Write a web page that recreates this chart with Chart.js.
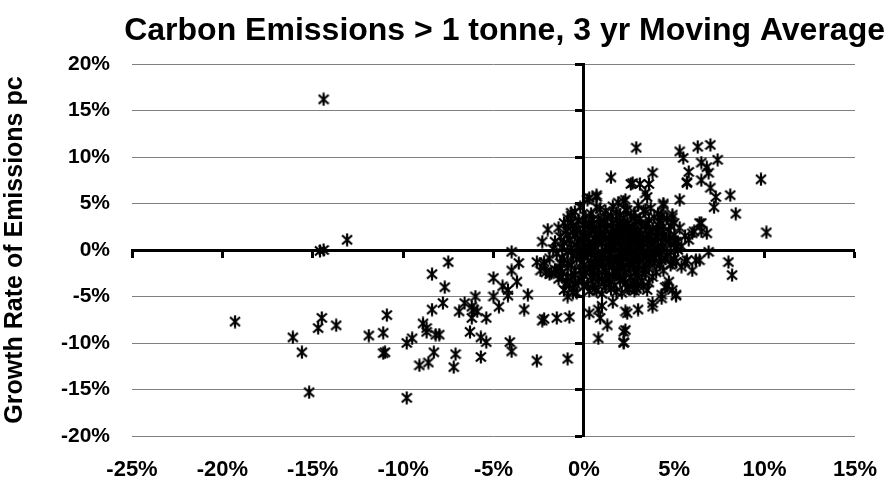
<!DOCTYPE html>
<html>
<head>
<meta charset="utf-8">
<script src="https://cdn.jsdelivr.net/npm/chart.js@4.4.1/dist/chart.umd.min.js"></script>
<style>
  body { margin: 0; background: #fff; }
  #chart { display: block; }
</style>
</head>
<body>
<canvas id="chart" width="890" height="486"></canvas>
<script>
// axis ranges (percent)
var xRange = [-25, 15];
var yRange = [-20, 20];
var tickStep = 5;

// points: [x growth %, emissions pc growth %]
var outliers = [
  [-14.4, 16.2], [-13.1, 1.1], [-14.6, -0.1], [-14.4, 0.0],
  [-19.3, -7.7], [-16.1, -9.4], [-15.6, -11.0], [-15.2, -15.3], [-14.7, -8.4], [-14.5, -7.3],
  [-13.7, -8.1], [-11.9, -9.2], [-11.1, -8.9], [-10.9, -7.0], [-11.0, -11.0], [-11.1, -11.1],
  [-9.8, -15.9]
];

var lowerLeft = [
  [-7.5, -1.3], [-8.4, -2.6], [-7.7, -4.0], [-8.4, -6.4], [-7.8, -5.7], [-6.9, -6.6], [-6.6, -5.7],
  [-6.2, -6.1], [-6.0, -5.0], [-6.1, -6.4], [-5.9, -6.6], [-6.2, -7.3], [-5.4, -7.3], [-5.0, -3.0],
  [-5.0, -5.0], [-4.7, -6.1], [-4.5, -3.9], [-4.2, -4.3], [-4.2, -4.9], [-4.0, -2.2], [-3.7, -3.4],
  [-3.6, -1.4], [-4.0, -0.2], [-3.1, -4.8], [-3.3, -6.4], [-2.6, -1.3], [-2.2, -1.3], [-2.1, -2.4],
  [-2.4, -2.2], [-1.8, -2.5], [-2.2, -7.4], [-2.3, -7.6], [-1.5, -7.3], [-0.8, -7.2], [-1.5, -2.2],
  [-1.2, -2.9], [-0.8, -3.8], [-0.6, -4.6], [-0.9, -5.0],
  [-9.8, -10.0], [-9.5, -9.5], [-9.1, -12.4], [-8.6, -12.1], [-8.3, -11.0], [-8.9, -7.9], [-8.7, -8.4],
  [-8.7, -8.8], [-8.2, -9.1], [-8.0, -9.1], [-7.1, -11.2], [-7.2, -12.6], [-6.3, -8.8], [-5.7, -9.4],
  [-5.4, -9.9], [-5.7, -11.5], [-4.1, -9.9], [-4.0, -10.9], [-2.6, -11.9], [-0.9, -11.7]
];

var lowerRight = [
  [0.8, -9.5], [2.2, -9.9], [2.3, -8.6], [1.3, -8.1], [0.9, -7.3], [0.3, -6.8], [0.8, -6.4],
  [2.3, -6.6], [2.4, -6.8], [3.0, -6.4], [3.8, -6.1], [4.3, -5.2], [4.6, -3.9], [5.1, -4.9], [4.9, -4.3],
  [2.9, -4.2], [2.5, -4.2], [4.9, -1.4], [6.0, -2.2], [5.6, -1.3], [2.2, -8.8], [2.2, -10.0],
  [5.1, -1.3], [5.7, -1.1], [6.2, -1.1], [5.4, -1.8], [4.8, -1.6], [2.9, -4.1], [4.5, -4.0],
  [4.7, -3.4], [5.1, -4.8], [4.3, -4.8], [3.8, -5.7], [1.0, -6.0], [1.6, -5.6]
];

var upperRight = [
  [-2.3, 0.9], [-2.0, 2.2], [-0.7, 3.7], [-0.7, 2.9], [0.3, 5.6], [0.7, 5.7], [1.5, 7.8], [2.9, 11.0],
  [2.6, 7.1], [3.1, 7.1], [3.6, 7.1], [3.8, 8.3], [3.4, 6.1], [3.5, 5.7], [4.4, 4.8], [4.9, 3.8],
  [4.9, 3.5], [5.3, 10.6], [5.5, 9.9], [5.7, 7.3], [5.8, 8.4], [6.3, 11.1], [5.3, 5.4], [6.0, 1.8],
  [5.8, 1.1], [5.1, 0.9], [2.3, 5.4], [1.9, 5.1],
  [7.0, 11.3], [7.4, 9.7], [6.5, 9.4], [6.8, 8.9], [6.9, 8.3], [6.5, 7.5], [9.8, 7.6], [7.0, 6.7],
  [7.3, 5.7], [8.1, 5.9], [7.2, 4.6], [8.4, 3.9], [6.4, 2.9], [6.5, 2.0], [6.8, 1.8], [10.1, 1.9],
  [6.9, -0.2], [6.4, -1.1], [8.0, -1.3], [8.2, -2.7],
  [0.7, 5.9], [0.2, 5.4], [0.7, 4.6], [2.2, 5.2], [-0.7, 4.0], [-0.7, 3.0], [-0.3, 3.2], [-0.8, 1.1],
  [-0.6, 1.9], [0.3, 2.9], [1.1, 3.2], [1.8, 4.0], [2.3, 4.3], [5.7, 7.2], [2.7, 7.2], [4.4, 5.0],
  [4.3, 3.8], [6.5, 2.9], [6.1, 2.0], [5.2, 0.9], [5.1, 0.3], [4.1, 2.1], [3.4, 4.3]
];

var cluster = [
  [-0.2, 4.6], [0.9, 4.4], [1.6, 4.7], [2.4, 4.3], [3.0, 4.8], [3.7, 4.5],
  [-0.5, 4.1], [0.4, 3.9], [1.2, 4.2], [2.0, 3.8], [2.8, 4.0], [3.3, 4.2], [4.1, 3.9],
  [-0.9, 3.4], [0.1, 3.6], [0.8, 3.3], [1.5, 3.7], [2.2, 3.4], [2.6, 3.6], [3.1, 3.3], [3.9, 3.5], [4.6, 3.4],
  [-1.1, 2.9], [-0.3, 3.1], [0.5, 2.8], [1.1, 3.0], [1.8, 3.2], [2.4, 2.9], [2.9, 3.1], [3.5, 2.8], [4.2, 3.0], [5.0, 2.9],
  [-1.4, 2.4], [-0.6, 2.6], [0.2, 2.5], [0.7, 2.3], [1.3, 2.6], [1.9, 2.4], [2.3, 2.7], [2.7, 2.4], [3.2, 2.6], [3.8, 2.3], [4.4, 2.5], [5.3, 2.4],
  [-1.0, 2.1], [-0.2, 1.9], [0.4, 2.0], [0.9, 2.2], [1.5, 1.9], [2.0, 2.1], [2.5, 1.8], [3.0, 2.0], [3.4, 2.2], [4.0, 1.9], [4.7, 2.1],
  [-1.3, 1.4], [-0.5, 1.6], [0.1, 1.5], [0.6, 1.3], [1.1, 1.6], [1.7, 1.4], [2.2, 1.6], [2.6, 1.3], [3.1, 1.5], [3.6, 1.7], [4.3, 1.4], [5.0, 1.6], [5.6, 1.5],
  [-1.6, 0.9], [-0.8, 1.1], [-0.1, 1.0], [0.3, 0.8], [0.8, 1.1], [1.4, 0.9], [1.9, 1.2], [2.4, 0.9], [2.8, 1.1], [3.3, 0.8], [3.9, 1.0], [4.5, 1.2],
  [-1.2, 0.4], [-0.4, 0.6], [0.2, 0.5], [0.6, 0.3], [1.0, 0.7], [1.6, 0.4], [2.1, 0.6], [2.5, 0.3], [3.0, 0.5], [3.5, 0.7], [4.1, 0.4], [4.8, 0.6], [5.4, 0.4],
  [-1.7, 0.1], [-0.9, -0.1], [-0.3, 0.2], [0.1, -0.2], [0.5, 0.1], [1.2, -0.1], [1.7, 0.2], [2.3, 0.0], [2.7, -0.2], [3.2, 0.1], [3.8, -0.1], [4.4, 0.2], [5.2, 0.0],
  [-1.5, -0.4], [-0.6, -0.6], [0.0, -0.5], [0.4, -0.3], [0.9, -0.7], [1.5, -0.4], [2.0, -0.6], [2.4, -0.3], [2.9, -0.5], [3.4, -0.7], [4.0, -0.4], [4.6, -0.6],
  [-1.9, -0.9], [-1.1, -1.1], [-0.4, -1.0], [0.2, -0.8], [0.7, -1.2], [1.3, -0.9], [1.8, -1.1], [2.2, -0.8], [2.6, -1.2], [3.1, -1.0], [3.7, -0.9], [4.3, -1.1], [5.0, -1.0],
  [-2.2, -1.6], [-1.3, -1.4], [-0.7, -1.6], [-0.1, -1.3], [0.5, -1.7], [1.0, -1.4], [1.6, -1.6], [2.1, -1.3], [2.7, -1.5], [3.3, -1.7], [3.9, -1.4],
  [-1.6, -2.1], [-0.9, -1.9], [-0.2, -2.2], [0.3, -1.9], [0.8, -2.1], [1.4, -1.8], [2.0, -2.2], [2.5, -1.9], [3.0, -2.1], [3.6, -2.0], [4.4, -2.2],
  [-1.9, -2.6], [-1.2, -2.4], [-0.5, -2.7], [0.1, -2.4], [0.6, -2.6], [1.2, -2.3], [1.8, -2.7], [2.3, -2.5], [2.9, -2.3], [3.4, -2.6],
  [-1.4, -3.1], [-0.7, -2.9], [-0.1, -3.2], [0.4, -2.9], [1.0, -3.1], [1.6, -2.8], [2.2, -3.2], [3.0, -3.0], [3.8, -2.9],
  [-1.0, -3.6], [-0.3, -3.4], [0.2, -3.7], [0.8, -3.4], [1.4, -3.6], [2.0, -3.3], [2.7, -3.7], [3.6, -3.5],
  [-0.6, -4.1], [0.0, -3.9], [0.6, -4.2], [1.2, -4.0], [2.4, -4.1], [3.3, -3.9],
  [-0.4, -4.6], [0.3, -4.4], [1.0, -4.7], [1.8, -4.5], [2.8, -4.4],
  [1.8, 0.8], [2.2, 1.3], [2.6, 0.6], [1.5, 1.1], [2.0, -0.2], [2.9, 0.9], [1.2, 0.3], [2.4, 1.7],
  [1.9, -0.9], [3.3, 0.3], [0.7, 0.9], [2.7, 2.0], [1.6, 2.3], [3.5, 1.2], [1.1, -1.0], [2.5, -1.5],
  [3.0, -0.6], [0.4, -1.3], [1.7, -2.4], [2.1, 2.6], [3.8, 0.6], [0.9, 1.8], [4.2, -0.3], [1.3, -2.9],
  [2.8, -3.3], [-0.2, -0.7], [0.0, 0.8], [-0.7, 0.2], [4.7, 1.0], [3.6, -1.4]
];

var clusterCore = [
  [0.5, 3.3], [1.3, 3.5], [2.0, 3.1], [2.8, 3.4], [3.6, 3.2], [4.3, 3.6],
  [0.0, 2.7], [0.9, 2.7], [1.6, 2.9], [2.5, 2.5], [3.4, 2.7], [4.1, 2.7], [4.8, 2.6],
  [-0.4, 2.2], [0.6, 2.1], [1.2, 2.3], [1.8, 2.0], [2.8, 2.2], [3.7, 2.0], [4.4, 1.9],
  [-0.9, 1.6], [0.3, 1.7], [0.9, 1.4], [1.5, 1.5], [2.0, 1.7], [2.9, 1.6], [3.3, 1.3], [4.0, 1.5], [4.8, 1.3],
  [-1.1, 0.8], [-0.3, 0.9], [0.5, 0.6], [1.2, 1.2], [2.0, 0.9], [2.6, 1.0], [3.1, 0.7], [3.7, 0.9], [4.3, 0.8], [5.0, 0.9],
  [-0.7, -0.2], [0.3, 0.3], [0.8, -0.2], [1.4, 0.2], [2.0, 0.3], [2.5, -0.1], [3.0, 0.2], [3.5, -0.3], [4.1, 0.0], [4.8, -0.2],
  [-1.2, -0.8], [-0.2, -0.4], [0.6, -0.9], [1.1, -0.5], [1.7, -0.8], [2.3, -0.5], [2.8, -0.9], [3.3, -0.4], [3.9, -0.8], [4.5, -0.9],
  [-0.9, -1.4], [0.0, -1.6], [0.8, -1.5], [1.4, -1.2], [1.9, -1.7], [2.4, -1.3], [3.0, -1.6], [3.6, -1.1], [4.2, -1.6],
  [-1.3, -2.0], [-0.5, -2.2], [0.5, -2.3], [1.1, -2.0], [1.7, -2.2], [2.2, -1.9], [2.8, -2.4], [3.3, -2.1], [4.0, -2.4],
  [-0.9, -2.9], [0.0, -2.7], [0.8, -2.8], [1.4, -3.2], [2.0, -2.8], [2.6, -2.9], [3.2, -3.3],
  [-0.5, -3.6], [0.5, -3.7], [1.1, -3.5], [1.7, -3.8], [2.3, -3.6], [3.0, -3.8],
  [-1.1, -4.3], [0.7, -4.4], [1.5, -4.2], [2.1, -4.6], [3.5, -4.3]
];

var allPoints = outliers.concat(lowerLeft, lowerRight, upperRight, cluster, clusterCore).map(function (p) {
  return { x: p[0], y: p[1] };
});

// Excel style "*" marker
var star = document.createElement('canvas');
star.width = 12;
star.height = 14;
var sc = star.getContext('2d');
sc.strokeStyle = '#000';
sc.lineWidth = 2.2;
sc.beginPath();
sc.moveTo(6, 0.5); sc.lineTo(6, 13.5);
sc.moveTo(1, 2.5); sc.lineTo(11, 11.5);
sc.moveTo(11, 2.5); sc.lineTo(1, 11.5);
sc.stroke();

var font = 'Liberation Sans, Arial, sans-serif';
var pct = function (v) { return v + '%'; };

var ctx = document.getElementById('chart').getContext('2d');
var chart = new Chart(ctx, {
  type: 'scatter',
  data: {
    datasets: [{
      data: allPoints,
      xAxisID: 'x',
      yAxisID: 'y',
      pointStyle: star,
      pointRadius: 5,
      borderColor: '#000',
      backgroundColor: '#000'
    }]
  },
  options: {
    responsive: false,
    animation: false,
    layout: { padding: { left: 0, right: 5, top: 0, bottom: 0 } },
    plugins: {
      legend: { display: false },
      tooltip: { enabled: false },
      title: {
        display: true,
        text: 'Carbon Emissions > 1 tonne, 3 yr Moving Average',
        align: 'end',
        color: '#000',
        font: { family: font, size: 32, weight: 'bold', lineHeight: 1.2 },
        padding: { top: 12, bottom: 13.6 }
      }
    },
    scales: {
      x: {
        type: 'linear',
        position: 'bottom',
        min: xRange[0], max: xRange[1],
        grid: { display: false },
        border: { display: false },
        ticks: { stepSize: tickStep, callback: pct, color: '#000', padding: 13,
                 font: { family: font, size: 22, weight: 'bold' } },
        afterFit: function (s) { s.height = 50; }
      },
      y: {
        type: 'linear',
        position: 'left',
        min: yRange[0], max: yRange[1],
        grid: { color: '#808080', lineWidth: 1, drawTicks: false },
        border: { display: false },
        ticks: { stepSize: tickStep, callback: pct, color: '#000', padding: 22,
                 font: { family: font, size: 21, weight: 'bold' } },
        title: {
          display: true,
          text: 'Growth Rate of Emissions pc',
          color: '#000',
          padding: { top: 0, bottom: 0 },
          font: { family: font, size: 25, weight: 'bold' }
        },
        afterFit: function (s) { s.width = 132; }
      },
      // the two black axes crossing at 0
      x0: {
        type: 'linear',
        position: { y: 0 },
        min: xRange[0], max: xRange[1],
        grid: { drawOnChartArea: false, drawTicks: true, tickLength: 6, color: '#000', tickWidth: 3 },
        border: { display: true, color: '#000', width: 3 },
        ticks: { display: false, stepSize: tickStep },
        afterFit: function (s) { s.height = 0; }
      },
      y0: {
        type: 'linear',
        position: { x: 0 },
        min: yRange[0], max: yRange[1],
        grid: { drawOnChartArea: false, drawTicks: true, tickLength: 7, color: '#000', tickWidth: 3 },
        border: { display: true, color: '#000', width: 3 },
        ticks: { display: false, stepSize: tickStep },
        afterFit: function (s) { s.width = 21; }
      }
    }
  }
});
</script>
</body>
</html>
